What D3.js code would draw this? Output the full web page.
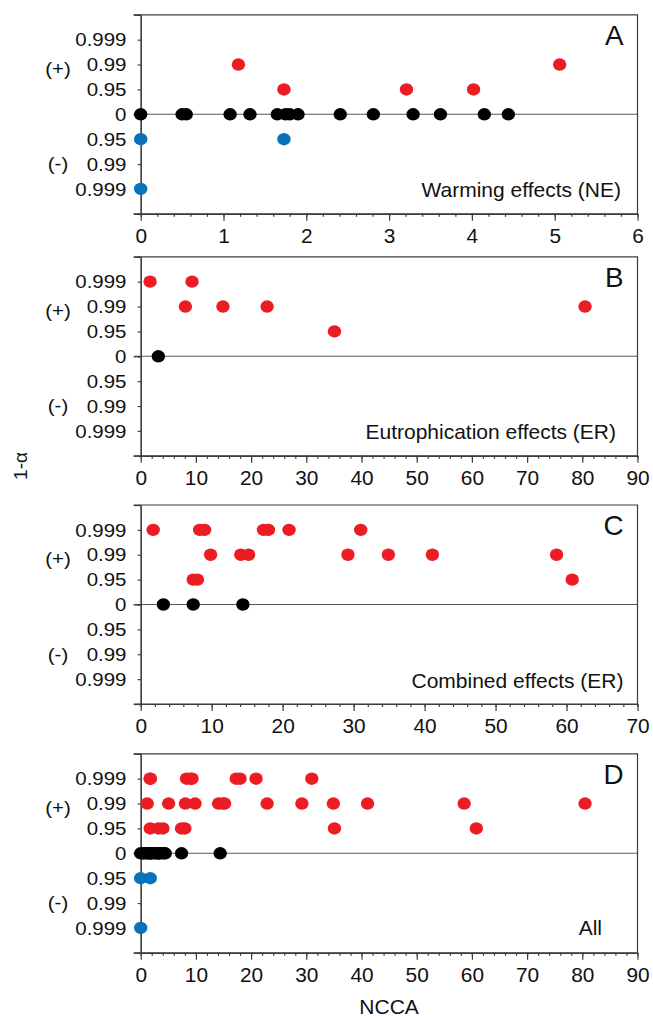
<!DOCTYPE html>
<meta charset="utf-8">
<script src="https://d3js.org/d3.v7.min.js"></script>
<style>
    body { margin: 0; background: #fff; }
    svg text { font-family: Arial, "Liberation Sans", sans-serif; fill: #111; }
    .axis path, .axis line, .frame { stroke: #3c3c3c; stroke-width: 1.2; fill: none; }
    .zero { stroke: #5a5a5a; stroke-width: 1.1; }
</style>
<body>
<div id="fig"></div>
<script>
    // significance levels, top to bottom: + side 3..1, 0, - side -1..-3
    var levels = [3, 2, 1, 0, -1, -2, -3];
    var levelLabels = ["0.999", "0.99", "0.95", "0", "0.95", "0.99", "0.999"];

    // [NCCA, level]
    var warming = [
        [0, 0], [0.5, 0], [0.55, 0], [1.08, 0], [1.32, 0], [1.65, 0], [1.75, 0], [1.8, 0], [1.9, 0],
        [2.41, 0], [2.81, 0], [3.29, 0], [3.62, 0], [4.15, 0], [4.44, 0],
        [1.18, 2], [1.73, 1], [3.21, 1], [4.02, 1], [5.06, 2],
        [0, -1], [1.73, -1], [0, -3]
    ];
    var eutrophication = [
        [3.2, 0],
        [1.7, 3], [9.3, 3], [8.1, 2], [14.9, 2], [22.9, 2], [35.1, 1], [80.5, 2]
    ];
    var combined = [
        [3.2, 0], [7.4, 0], [14.4, 0],
        [1.76, 3], [8.3, 3], [9.0, 3], [17.3, 3], [18.0, 3], [20.9, 3], [31.0, 3],
        [9.85, 2], [14.1, 2], [15.2, 2], [29.2, 2], [34.9, 2], [41.1, 2], [58.6, 2],
        [7.4, 1], [8.0, 1], [60.8, 1]
    ];
    var all = warming.concat(eutrophication, combined);

    var panelData = [warming, eutrophication, combined, all];
    var panelIds = ["A", "B", "C", "D"];
    var panelNotes = ["Warming effects (NE)", "Eutrophication effects (ER)", "Combined effects (ER)", "All"];
    var xMax = [6, 90, 70, 90];
    var xStep = [1, 10, 10, 10];
    var xMinorStep = [0.2, 2, 2, 2];

    const width = 653, height = 1017;
    const left = 140.7, right = 637.5, ph = 199;
    const tops = [14.8, 256.8, 505, 753.8];
    const noteRight = [621, 616, 623.5, 602];
    const noteDy = [8.5, 8.5, 8.5, 7];
    const sx = 1.1; // the original is a bit stretched sideways

    var svg = d3.select("#fig").append("svg")
        .attr("width", width).attr("height", height);

    function colour(l) {
        return l > 0 ? "#ec1c24" : (l < 0 ? "#0a71bd" : "#000");
    }

    function label(g, x, y, txt, size, anchor, stretch) {
        return g.append("text")
            .attr("transform", "translate(" + x + "," + y + ") scale(" + (stretch || sx) + ",1)")
            .attr("text-anchor", anchor || "middle")
            .style("font-size", size + "px")
            .text(txt);
    }

    panelData.forEach(function (data, i) {
        var top = tops[i];
        var x = d3.scaleLinear().domain([0, xMax[i]]).range([left, right]);
        var y = d3.scaleLinear().domain([-4, 4]).range([top + ph, top]);
        var g = svg.append("g");

        // zero line
        g.append("line").attr("class", "zero")
            .attr("x1", left - 7).attr("x2", right)
            .attr("y1", y(0)).attr("y2", y(0));

        // frame top/right
        g.append("path").attr("class", "frame")
            .attr("d", "M" + (left - 7) + "," + y(4) + "H" + right + "V" + y(-4));

        // x axis
        g.append("g").attr("class", "axis")
            .attr("transform", "translate(0," + y(-4) + ")")
            .call(d3.axisBottom(x).tickValues(d3.range(0, xMax[i] + 1e-6, xMinorStep[i]))
                .tickSize(3).tickSizeOuter(0).tickFormat(""));
        g.append("g").attr("class", "axis")
            .attr("transform", "translate(0," + y(-4) + ")")
            .call(d3.axisBottom(x).tickValues(d3.range(0, xMax[i] + 1e-6, xStep[i]))
                .tickSize(7).tickSizeOuter(0).tickPadding(8).tickFormat(d3.format("d")))
            .call(a => a.select(".domain").attr("d", "M" + (left - 7) + ",0H" + right))
            .selectAll("text").style("font-size", "19.5px").attr("fill", "#111")
            .attr("transform", "scale(1.07,1)");

        // y axis
        g.append("g").attr("class", "axis")
            .attr("transform", "translate(" + left + ",0)")
            .call(d3.axisLeft(y).tickValues(d3.range(-4, 5, 1)).tickSize(3).tickSizeOuter(0).tickFormat(""));
        g.append("g").attr("class", "axis")
            .attr("transform", "translate(" + left + ",0)")
            .call(d3.axisLeft(y).tickValues([-4, 0, 4]).tickSize(7).tickSizeOuter(0).tickFormat(""));

        levels.forEach(function (l, k) {
            label(g, 126.5, y(l) + 6.7, levelLabels[k], 18.6, "end");
        });

        label(g, 58, y(2) + 10.2, "(+)", 18.6);
        label(g, 58, y(-2) + 6.4, "(-)", 18.6);

        // points
        g.selectAll(".dot").data(data).enter().append("ellipse")
            .attr("cx", d => x(d[0])).attr("cy", d => y(d[1]))
            .attr("rx", 6.7).attr("ry", 6.2)
            .attr("fill", d => colour(d[1]));

        label(g, 623.5, y(3) + 5.5, panelIds[i], 27, "end", 1.03);
        label(g, noteRight[i], y(-3) + noteDy[i], panelNotes[i], 20, "end", 1.05);
    });

    svg.append("text").attr("transform", "translate(26.5,466) rotate(-90)")
        .attr("text-anchor", "middle").style("font-size", "19px").text("1-α");

    label(svg, (left + right) / 2, 1014, "NCCA", 21, "middle", 1.0);
</script>
</body>
